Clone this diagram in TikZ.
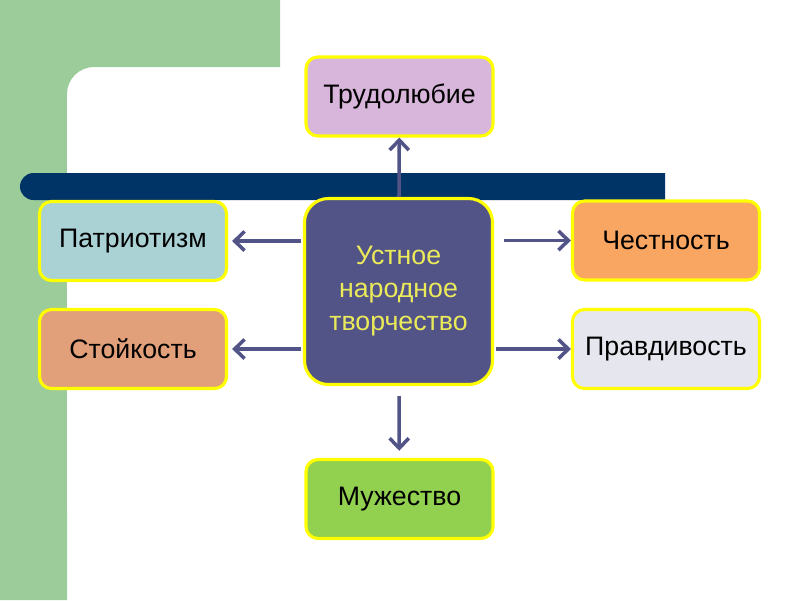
\documentclass[tikz,border=0pt]{standalone}
\usepackage{fontspec}
\setmainfont{Liberation Sans}
\usetikzlibrary{arrows.meta,positioning,calc}
\definecolor{bggreen}{RGB}{155,204,153}
\definecolor{barnavy}{RGB}{0,51,102}
\definecolor{hubblue}{RGB}{82,84,136}
\definecolor{hubtext}{RGB}{235,235,90}
\definecolor{framey}{RGB}{255,255,0}
\definecolor{lilac}{RGB}{216,181,218}
\definecolor{teal}{RGB}{170,210,213}
\definecolor{salmon}{RGB}{226,160,122}
\definecolor{orangey}{RGB}{249,166,98}
\definecolor{palegrey}{RGB}{230,230,238}
\definecolor{grassgreen}{RGB}{146,208,80}

\begin{document}
\begin{tikzpicture}[x=0.025cm, y=-0.025cm,
    box/.style={rectangle, draw=framey, line width=2.2pt, rounded corners=0.3cm,
        minimum width=4.675cm, minimum height=1.975cm, inner sep=2pt,
        font=\fontsize{19}{23.5}\selectfont, align=center},
    hub/.style={box, fill=hubblue, text=hubtext, rounded corners=0.6cm,
        minimum width=4.7cm, minimum height=4.65cm},
    arr/.style={-{Straight Barb[length=2.5mm, width=4.8mm]}, line width=2.5pt, hubblue}
]
    \useasboundingbox (0,0) rectangle (800,600);
    % background
    \fill[white] (0,0) rectangle (800,600);
    \fill[bggreen] (0,0) -- (280,0) -- (280,67) -- (94,67)
        arc (90:180:0.675cm) -- (67,600) -- (0,600) -- cycle;
    \fill[barnavy] (665,173) -- (33.5,173) arc (90:270:0.3375cm) -- (665,200) -- cycle;

    \node[hub] (hub) at (398.5,291.5) {Устное\\народное\\творчество};
    \node[box, fill=lilac] (trud) at (399.5,96.5) {Трудолюбие};
    \node[box, fill=teal] (patr) at (133,241) {Патриотизм};
    \node[box, fill=salmon] (stoik) at (133,349) {Стойкость};
    \node[box, fill=orangey] (chest) at (666,240.5) {Честность};
    \node[box, fill=palegrey] (pravd) at (666,349) {Правдивость};
    \node[box, fill=grassgreen] (muzh) at (399.5,499) {Мужество};

    \draw[arr] (hub) -- (trud);
    \draw[arr, shorten <=0.05cm, shorten >=0.1cm] (hub.west |- patr) -- (patr);
    \draw[arr, shorten <=0.05cm, shorten >=0.1cm] (hub.west |- stoik) -- (stoik);
    \draw[arr, shorten <=0.25cm] (hub.east |- chest) -- (chest);
    \draw[arr, shorten <=0.05cm] (hub.east |- pravd) -- (pravd);
    \draw[arr, shorten <=0.25cm, shorten >=0.18cm] (hub) -- (muzh);
\end{tikzpicture}
\end{document}
